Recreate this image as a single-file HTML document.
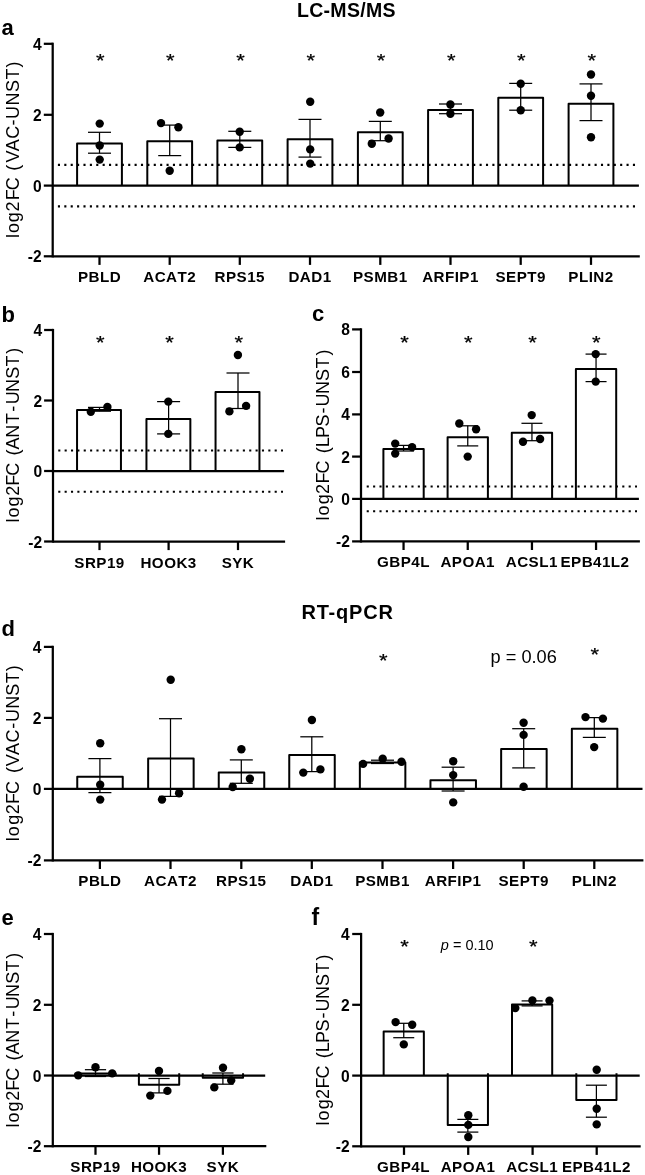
<!DOCTYPE html>
<html lang="en"><head><meta charset="utf-8"><title>Figure</title>
<style>html,body{margin:0;padding:0;background:#fff}svg{display:block}</style>
</head><body>
<svg width="645" height="1175" viewBox="0 0 645 1175" font-family='"Liberation Sans", sans-serif' fill="#000">
<rect width="645" height="1175" fill="#fff"/>
<text x="346.20" y="17.00" font-size="19.5" font-weight="bold" text-anchor="middle" textLength="98.5" lengthAdjust="spacing">LC-MS/MS</text>
<text x="347.20" y="618.90" font-size="20" font-weight="bold" text-anchor="middle" textLength="91.6" lengthAdjust="spacing">RT-qPCR</text>
<path d="M77.10 185.60V143.50H121.90V185.60" fill="#fff" stroke="#000" stroke-width="2.0" stroke-linejoin="round"/>
<path d="M147.30 185.60V141.20H192.10V185.60" fill="#fff" stroke="#000" stroke-width="2.0" stroke-linejoin="round"/>
<path d="M217.40 185.60V140.50H262.20V185.60" fill="#fff" stroke="#000" stroke-width="2.0" stroke-linejoin="round"/>
<path d="M287.60 185.60V139.30H332.40V185.60" fill="#fff" stroke="#000" stroke-width="2.0" stroke-linejoin="round"/>
<path d="M357.90 185.60V132.30H402.70V185.60" fill="#fff" stroke="#000" stroke-width="2.0" stroke-linejoin="round"/>
<path d="M428.10 185.60V110.00H472.90V185.60" fill="#fff" stroke="#000" stroke-width="2.0" stroke-linejoin="round"/>
<path d="M498.30 185.60V97.80H543.10V185.60" fill="#fff" stroke="#000" stroke-width="2.0" stroke-linejoin="round"/>
<path d="M568.60 185.60V103.80H613.40V185.60" fill="#fff" stroke="#000" stroke-width="2.0" stroke-linejoin="round"/>
<line x1="57.90" y1="164.90" x2="635.20" y2="164.90" stroke="#000" stroke-width="2.1" stroke-dasharray="2.1 4.289"/>
<line x1="57.90" y1="206.40" x2="635.20" y2="206.40" stroke="#000" stroke-width="2.1" stroke-dasharray="2.1 4.289"/>
<line x1="52.70" y1="185.60" x2="638.90" y2="185.60" stroke="#000" stroke-width="2.25" />
<line x1="99.50" y1="132.30" x2="99.50" y2="153.20" stroke="#000" stroke-width="1.25" />
<line x1="88.00" y1="132.30" x2="111.00" y2="132.30" stroke="#000" stroke-width="1.25" />
<line x1="88.00" y1="153.20" x2="111.00" y2="153.20" stroke="#000" stroke-width="1.25" />
<line x1="169.70" y1="125.10" x2="169.70" y2="155.60" stroke="#000" stroke-width="1.25" />
<line x1="158.20" y1="125.10" x2="181.20" y2="125.10" stroke="#000" stroke-width="1.25" />
<line x1="158.20" y1="155.60" x2="181.20" y2="155.60" stroke="#000" stroke-width="1.25" />
<line x1="239.80" y1="131.30" x2="239.80" y2="147.40" stroke="#000" stroke-width="1.25" />
<line x1="228.30" y1="131.30" x2="251.30" y2="131.30" stroke="#000" stroke-width="1.25" />
<line x1="228.30" y1="147.40" x2="251.30" y2="147.40" stroke="#000" stroke-width="1.25" />
<line x1="310.00" y1="119.40" x2="310.00" y2="157.10" stroke="#000" stroke-width="1.25" />
<line x1="298.50" y1="119.40" x2="321.50" y2="119.40" stroke="#000" stroke-width="1.25" />
<line x1="298.50" y1="157.10" x2="321.50" y2="157.10" stroke="#000" stroke-width="1.25" />
<line x1="380.30" y1="121.40" x2="380.30" y2="140.70" stroke="#000" stroke-width="1.25" />
<line x1="368.80" y1="121.40" x2="391.80" y2="121.40" stroke="#000" stroke-width="1.25" />
<line x1="368.80" y1="140.70" x2="391.80" y2="140.70" stroke="#000" stroke-width="1.25" />
<line x1="450.50" y1="104.00" x2="450.50" y2="113.70" stroke="#000" stroke-width="1.25" />
<line x1="439.00" y1="104.00" x2="462.00" y2="104.00" stroke="#000" stroke-width="1.25" />
<line x1="439.00" y1="113.70" x2="462.00" y2="113.70" stroke="#000" stroke-width="1.25" />
<line x1="520.70" y1="83.40" x2="520.70" y2="110.20" stroke="#000" stroke-width="1.25" />
<line x1="509.20" y1="83.40" x2="532.20" y2="83.40" stroke="#000" stroke-width="1.25" />
<line x1="509.20" y1="110.20" x2="532.20" y2="110.20" stroke="#000" stroke-width="1.25" />
<line x1="591.00" y1="83.90" x2="591.00" y2="120.60" stroke="#000" stroke-width="1.25" />
<line x1="579.50" y1="83.90" x2="602.50" y2="83.90" stroke="#000" stroke-width="1.25" />
<line x1="579.50" y1="120.60" x2="602.50" y2="120.60" stroke="#000" stroke-width="1.25" />
<circle cx="99.70" cy="123.60" r="4.2" fill="#000"/>
<circle cx="99.70" cy="145.50" r="4.2" fill="#000"/>
<circle cx="99.70" cy="159.60" r="4.2" fill="#000"/>
<circle cx="161.00" cy="123.10" r="4.2" fill="#000"/>
<circle cx="178.40" cy="127.30" r="4.2" fill="#000"/>
<circle cx="169.70" cy="170.80" r="4.2" fill="#000"/>
<circle cx="239.70" cy="131.80" r="4.2" fill="#000"/>
<circle cx="239.70" cy="147.40" r="4.2" fill="#000"/>
<circle cx="310.20" cy="101.80" r="4.2" fill="#000"/>
<circle cx="310.20" cy="149.40" r="4.2" fill="#000"/>
<circle cx="310.20" cy="163.60" r="4.2" fill="#000"/>
<circle cx="380.20" cy="112.50" r="4.2" fill="#000"/>
<circle cx="388.60" cy="138.50" r="4.2" fill="#000"/>
<circle cx="371.80" cy="143.70" r="4.2" fill="#000"/>
<circle cx="450.40" cy="104.50" r="4.2" fill="#000"/>
<circle cx="450.40" cy="113.70" r="4.2" fill="#000"/>
<circle cx="520.70" cy="83.70" r="4.2" fill="#000"/>
<circle cx="520.70" cy="110.20" r="4.2" fill="#000"/>
<circle cx="591.00" cy="74.50" r="4.2" fill="#000"/>
<circle cx="591.00" cy="95.80" r="4.2" fill="#000"/>
<circle cx="591.00" cy="137.30" r="4.2" fill="#000"/>
<line x1="52.70" y1="42.67" x2="52.70" y2="257.43" stroke="#000" stroke-width="2.25" />
<line x1="52.70" y1="256.30" x2="639.80" y2="256.30" stroke="#000" stroke-width="2.25" />
<line x1="43.80" y1="256.30" x2="52.70" y2="256.30" stroke="#000" stroke-width="2.25" />
<text x="41.60" y="262.30" font-size="15.6" font-weight="bold" text-anchor="end" >-2</text>
<line x1="43.80" y1="185.60" x2="52.70" y2="185.60" stroke="#000" stroke-width="2.25" />
<text x="41.60" y="191.60" font-size="15.6" font-weight="bold" text-anchor="end" >0</text>
<line x1="43.80" y1="114.80" x2="52.70" y2="114.80" stroke="#000" stroke-width="2.25" />
<text x="41.60" y="120.80" font-size="15.6" font-weight="bold" text-anchor="end" >2</text>
<line x1="43.80" y1="43.80" x2="52.70" y2="43.80" stroke="#000" stroke-width="2.25" />
<text x="41.60" y="49.80" font-size="15.6" font-weight="bold" text-anchor="end" >4</text>
<line x1="99.50" y1="256.30" x2="99.50" y2="264.90" stroke="#000" stroke-width="2.25" />
<text x="99.50" y="282.30" font-size="15.2" font-weight="bold" text-anchor="middle" letter-spacing="0.45" style="font-kerning:none">PBLD</text>
<line x1="169.70" y1="256.30" x2="169.70" y2="264.90" stroke="#000" stroke-width="2.25" />
<text x="169.70" y="282.30" font-size="15.2" font-weight="bold" text-anchor="middle" letter-spacing="0.45" style="font-kerning:none">ACAT2</text>
<line x1="239.80" y1="256.30" x2="239.80" y2="264.90" stroke="#000" stroke-width="2.25" />
<text x="239.80" y="282.30" font-size="15.2" font-weight="bold" text-anchor="middle" letter-spacing="0.45" style="font-kerning:none">RPS15</text>
<line x1="310.00" y1="256.30" x2="310.00" y2="264.90" stroke="#000" stroke-width="2.25" />
<text x="310.00" y="282.30" font-size="15.2" font-weight="bold" text-anchor="middle" letter-spacing="0.45" style="font-kerning:none">DAD1</text>
<line x1="380.30" y1="256.30" x2="380.30" y2="264.90" stroke="#000" stroke-width="2.25" />
<text x="380.30" y="282.30" font-size="15.2" font-weight="bold" text-anchor="middle" letter-spacing="0.45" style="font-kerning:none">PSMB1</text>
<line x1="450.50" y1="256.30" x2="450.50" y2="264.90" stroke="#000" stroke-width="2.25" />
<text x="450.50" y="282.30" font-size="15.2" font-weight="bold" text-anchor="middle" letter-spacing="0.45" style="font-kerning:none">ARFIP1</text>
<line x1="520.70" y1="256.30" x2="520.70" y2="264.90" stroke="#000" stroke-width="2.25" />
<text x="520.70" y="282.30" font-size="15.2" font-weight="bold" text-anchor="middle" letter-spacing="0.45" style="font-kerning:none">SEPT9</text>
<line x1="591.00" y1="256.30" x2="591.00" y2="264.90" stroke="#000" stroke-width="2.25" />
<text x="591.00" y="282.30" font-size="15.2" font-weight="bold" text-anchor="middle" letter-spacing="0.45" style="font-kerning:none">PLIN2</text>
<text transform="translate(100.20 66.55) scale(1 0.87)" font-size="22" text-anchor="middle" stroke="#000" stroke-width="0.25">*</text>
<text transform="translate(170.40 66.55) scale(1 0.87)" font-size="22" text-anchor="middle" stroke="#000" stroke-width="0.25">*</text>
<text transform="translate(240.50 66.55) scale(1 0.87)" font-size="22" text-anchor="middle" stroke="#000" stroke-width="0.25">*</text>
<text transform="translate(310.70 66.55) scale(1 0.87)" font-size="22" text-anchor="middle" stroke="#000" stroke-width="0.25">*</text>
<text transform="translate(381.00 66.55) scale(1 0.87)" font-size="22" text-anchor="middle" stroke="#000" stroke-width="0.25">*</text>
<text transform="translate(451.20 66.55) scale(1 0.87)" font-size="22" text-anchor="middle" stroke="#000" stroke-width="0.25">*</text>
<text transform="translate(521.40 66.55) scale(1 0.87)" font-size="22" text-anchor="middle" stroke="#000" stroke-width="0.25">*</text>
<text transform="translate(591.70 66.55) scale(1 0.87)" font-size="22" text-anchor="middle" stroke="#000" stroke-width="0.25">*</text>
<text x="1.50" y="35.00" font-size="22" font-weight="bold" text-anchor="start" >a</text>
<text transform="translate(19.30 238.30) rotate(-90)" font-size="18" text-anchor="start" x="0.20 5.20 16.00 26.80 38.00 48.00 61.00 67.60 75.80 86.96 99.44 112.92 119.40 132.88 146.35 158.84 170.72" y="0">log2FC (VAC-UNST)</text>
<path d="M77.05 471.00V409.90H120.95V471.00" fill="#fff" stroke="#000" stroke-width="2.0" stroke-linejoin="round"/>
<path d="M146.45 471.00V418.90H190.35V471.00" fill="#fff" stroke="#000" stroke-width="2.0" stroke-linejoin="round"/>
<path d="M215.55 471.00V391.90H259.45V471.00" fill="#fff" stroke="#000" stroke-width="2.0" stroke-linejoin="round"/>
<line x1="58.25" y1="450.50" x2="283.00" y2="450.50" stroke="#000" stroke-width="2.1" stroke-dasharray="2.1 4.265"/>
<line x1="58.25" y1="491.70" x2="283.00" y2="491.70" stroke="#000" stroke-width="2.1" stroke-dasharray="2.1 4.265"/>
<line x1="53.00" y1="471.00" x2="284.10" y2="471.00" stroke="#000" stroke-width="2.25" />
<line x1="99.50" y1="407.40" x2="99.50" y2="411.20" stroke="#000" stroke-width="1.25" />
<line x1="88.00" y1="407.40" x2="111.00" y2="407.40" stroke="#000" stroke-width="1.25" />
<line x1="88.00" y1="411.20" x2="111.00" y2="411.20" stroke="#000" stroke-width="1.25" />
<line x1="168.60" y1="401.60" x2="168.60" y2="433.90" stroke="#000" stroke-width="1.25" />
<line x1="157.10" y1="401.60" x2="180.10" y2="401.60" stroke="#000" stroke-width="1.25" />
<line x1="157.10" y1="433.90" x2="180.10" y2="433.90" stroke="#000" stroke-width="1.25" />
<line x1="238.00" y1="373.00" x2="238.00" y2="408.50" stroke="#000" stroke-width="1.25" />
<line x1="226.50" y1="373.00" x2="249.50" y2="373.00" stroke="#000" stroke-width="1.25" />
<line x1="226.50" y1="408.50" x2="249.50" y2="408.50" stroke="#000" stroke-width="1.25" />
<circle cx="90.80" cy="411.70" r="4.2" fill="#000"/>
<circle cx="107.40" cy="406.90" r="4.2" fill="#000"/>
<circle cx="168.30" cy="401.60" r="4.2" fill="#000"/>
<circle cx="168.30" cy="433.90" r="4.2" fill="#000"/>
<circle cx="237.90" cy="355.00" r="4.2" fill="#000"/>
<circle cx="246.10" cy="405.90" r="4.2" fill="#000"/>
<circle cx="229.40" cy="411.40" r="4.2" fill="#000"/>
<line x1="53.00" y1="328.88" x2="53.00" y2="542.62" stroke="#000" stroke-width="2.25" />
<line x1="53.00" y1="541.50" x2="285.10" y2="541.50" stroke="#000" stroke-width="2.25" />
<line x1="44.10" y1="541.50" x2="53.00" y2="541.50" stroke="#000" stroke-width="2.25" />
<text x="42.10" y="547.50" font-size="15.6" font-weight="bold" text-anchor="end" >-2</text>
<line x1="44.10" y1="471.00" x2="53.00" y2="471.00" stroke="#000" stroke-width="2.25" />
<text x="42.10" y="477.00" font-size="15.6" font-weight="bold" text-anchor="end" >0</text>
<line x1="44.10" y1="400.50" x2="53.00" y2="400.50" stroke="#000" stroke-width="2.25" />
<text x="42.10" y="406.50" font-size="15.6" font-weight="bold" text-anchor="end" >2</text>
<line x1="44.10" y1="330.00" x2="53.00" y2="330.00" stroke="#000" stroke-width="2.25" />
<text x="42.10" y="336.00" font-size="15.6" font-weight="bold" text-anchor="end" >4</text>
<line x1="99.50" y1="541.50" x2="99.50" y2="550.10" stroke="#000" stroke-width="2.25" />
<text x="99.50" y="567.50" font-size="15.2" font-weight="bold" text-anchor="middle" letter-spacing="0.45" style="font-kerning:none">SRP19</text>
<line x1="168.60" y1="541.50" x2="168.60" y2="550.10" stroke="#000" stroke-width="2.25" />
<text x="168.60" y="567.50" font-size="15.2" font-weight="bold" text-anchor="middle" letter-spacing="0.45" style="font-kerning:none">HOOK3</text>
<line x1="238.00" y1="541.50" x2="238.00" y2="550.10" stroke="#000" stroke-width="2.25" />
<text x="238.00" y="567.50" font-size="15.2" font-weight="bold" text-anchor="middle" letter-spacing="0.45" style="font-kerning:none">SYK</text>
<text transform="translate(100.20 349.05) scale(1 0.87)" font-size="22" text-anchor="middle" stroke="#000" stroke-width="0.25">*</text>
<text transform="translate(169.50 349.05) scale(1 0.87)" font-size="22" text-anchor="middle" stroke="#000" stroke-width="0.25">*</text>
<text transform="translate(238.70 349.05) scale(1 0.87)" font-size="22" text-anchor="middle" stroke="#000" stroke-width="0.25">*</text>
<text x="1.50" y="321.50" font-size="22" font-weight="bold" text-anchor="start" >b</text>
<text transform="translate(19.30 524.00) rotate(-90)" font-size="18" text-anchor="start" x="1.40 6.40 17.50 28.30 38.30 48.30 61.00 68.60 74.60 86.30 99.90 112.20 119.70 131.90 145.20 157.40 170.30" y="0">log2FC (ANT-UNST)</text>
<path d="M383.40 498.90V449.10H423.70V498.90" fill="#fff" stroke="#000" stroke-width="2.0" stroke-linejoin="round"/>
<path d="M447.60 498.90V437.20H487.90V498.90" fill="#fff" stroke="#000" stroke-width="2.0" stroke-linejoin="round"/>
<path d="M511.80 498.90V432.80H552.10V498.90" fill="#fff" stroke="#000" stroke-width="2.0" stroke-linejoin="round"/>
<path d="M575.90 498.90V369.00H616.20V498.90" fill="#fff" stroke="#000" stroke-width="2.0" stroke-linejoin="round"/>
<line x1="366.70" y1="486.50" x2="637.00" y2="486.50" stroke="#000" stroke-width="2.1" stroke-dasharray="2.1 4.289"/>
<line x1="366.70" y1="511.30" x2="637.00" y2="511.30" stroke="#000" stroke-width="2.1" stroke-dasharray="2.1 4.289"/>
<line x1="361.00" y1="498.90" x2="638.90" y2="498.90" stroke="#000" stroke-width="2.25" />
<line x1="403.55" y1="445.40" x2="403.55" y2="451.00" stroke="#000" stroke-width="1.25" />
<line x1="393.05" y1="445.40" x2="414.05" y2="445.40" stroke="#000" stroke-width="1.25" />
<line x1="393.05" y1="451.00" x2="414.05" y2="451.00" stroke="#000" stroke-width="1.25" />
<line x1="467.75" y1="425.80" x2="467.75" y2="445.90" stroke="#000" stroke-width="1.25" />
<line x1="457.25" y1="425.80" x2="478.25" y2="425.80" stroke="#000" stroke-width="1.25" />
<line x1="457.25" y1="445.90" x2="478.25" y2="445.90" stroke="#000" stroke-width="1.25" />
<line x1="531.95" y1="423.30" x2="531.95" y2="440.70" stroke="#000" stroke-width="1.25" />
<line x1="521.45" y1="423.30" x2="542.45" y2="423.30" stroke="#000" stroke-width="1.25" />
<line x1="521.45" y1="440.70" x2="542.45" y2="440.70" stroke="#000" stroke-width="1.25" />
<line x1="596.05" y1="354.10" x2="596.05" y2="381.60" stroke="#000" stroke-width="1.25" />
<line x1="585.55" y1="354.10" x2="606.55" y2="354.10" stroke="#000" stroke-width="1.25" />
<line x1="585.55" y1="381.60" x2="606.55" y2="381.60" stroke="#000" stroke-width="1.25" />
<circle cx="395.20" cy="443.60" r="4.2" fill="#000"/>
<circle cx="395.20" cy="453.60" r="4.2" fill="#000"/>
<circle cx="412.10" cy="447.10" r="4.2" fill="#000"/>
<circle cx="459.30" cy="423.50" r="4.2" fill="#000"/>
<circle cx="476.10" cy="429.30" r="4.2" fill="#000"/>
<circle cx="467.70" cy="456.60" r="4.2" fill="#000"/>
<circle cx="531.70" cy="415.10" r="4.2" fill="#000"/>
<circle cx="540.10" cy="439.00" r="4.2" fill="#000"/>
<circle cx="523.00" cy="441.70" r="4.2" fill="#000"/>
<circle cx="595.70" cy="354.10" r="4.2" fill="#000"/>
<circle cx="595.70" cy="381.60" r="4.2" fill="#000"/>
<line x1="361.00" y1="328.27" x2="361.00" y2="542.52" stroke="#000" stroke-width="2.25" />
<line x1="361.00" y1="541.40" x2="639.90" y2="541.40" stroke="#000" stroke-width="2.25" />
<line x1="352.10" y1="541.40" x2="361.00" y2="541.40" stroke="#000" stroke-width="2.25" />
<text x="349.90" y="547.40" font-size="15.6" font-weight="bold" text-anchor="end" >-2</text>
<line x1="352.10" y1="498.90" x2="361.00" y2="498.90" stroke="#000" stroke-width="2.25" />
<text x="349.90" y="504.90" font-size="15.6" font-weight="bold" text-anchor="end" >0</text>
<line x1="352.10" y1="456.60" x2="361.00" y2="456.60" stroke="#000" stroke-width="2.25" />
<text x="349.90" y="462.60" font-size="15.6" font-weight="bold" text-anchor="end" >2</text>
<line x1="352.10" y1="414.40" x2="361.00" y2="414.40" stroke="#000" stroke-width="2.25" />
<text x="349.90" y="420.40" font-size="15.6" font-weight="bold" text-anchor="end" >4</text>
<line x1="352.10" y1="372.00" x2="361.00" y2="372.00" stroke="#000" stroke-width="2.25" />
<text x="349.90" y="378.00" font-size="15.6" font-weight="bold" text-anchor="end" >6</text>
<line x1="352.10" y1="329.40" x2="361.00" y2="329.40" stroke="#000" stroke-width="2.25" />
<text x="349.90" y="335.40" font-size="15.6" font-weight="bold" text-anchor="end" >8</text>
<line x1="403.55" y1="541.40" x2="403.55" y2="550.00" stroke="#000" stroke-width="2.25" />
<text x="403.50" y="567.40" font-size="15.2" font-weight="bold" text-anchor="middle" letter-spacing="0.45" style="font-kerning:none">GBP4L</text>
<line x1="467.75" y1="541.40" x2="467.75" y2="550.00" stroke="#000" stroke-width="2.25" />
<text x="467.70" y="567.40" font-size="15.2" font-weight="bold" text-anchor="middle" letter-spacing="0.45" style="font-kerning:none">APOA1</text>
<line x1="531.95" y1="541.40" x2="531.95" y2="550.00" stroke="#000" stroke-width="2.25" />
<text x="531.80" y="567.40" font-size="15.2" font-weight="bold" text-anchor="middle" letter-spacing="0.45" style="font-kerning:none">ACSL1</text>
<line x1="596.05" y1="541.40" x2="596.05" y2="550.00" stroke="#000" stroke-width="2.25" />
<text x="595.00" y="567.40" font-size="15.2" font-weight="bold" text-anchor="middle" letter-spacing="0.45" style="font-kerning:none">EPB41L2</text>
<text transform="translate(404.60 349.05) scale(1 0.87)" font-size="22" text-anchor="middle" stroke="#000" stroke-width="0.25">*</text>
<text transform="translate(468.40 349.05) scale(1 0.87)" font-size="22" text-anchor="middle" stroke="#000" stroke-width="0.25">*</text>
<text transform="translate(532.50 349.05) scale(1 0.87)" font-size="22" text-anchor="middle" stroke="#000" stroke-width="0.25">*</text>
<text transform="translate(596.20 349.05) scale(1 0.87)" font-size="22" text-anchor="middle" stroke="#000" stroke-width="0.25">*</text>
<text x="312.00" y="321.00" font-size="22" font-weight="bold" text-anchor="start" >c</text>
<text transform="translate(328.50 524.00) rotate(-90)" font-size="18" text-anchor="start" x="3.60 8.45 19.65 30.05 40.40 50.50 63.00 70.65 76.70 86.10 97.60 110.50 117.50 130.00 143.00 155.40 168.60" y="0">log2FC (LPS-UNST)</text>
<path d="M77.25 788.90V776.70H122.75V788.90" fill="#fff" stroke="#000" stroke-width="2.0" stroke-linejoin="round"/>
<path d="M148.15 788.90V758.40H193.65V788.90" fill="#fff" stroke="#000" stroke-width="2.0" stroke-linejoin="round"/>
<path d="M218.75 788.90V772.60H264.25V788.90" fill="#fff" stroke="#000" stroke-width="2.0" stroke-linejoin="round"/>
<path d="M289.25 788.90V755.00H334.75V788.90" fill="#fff" stroke="#000" stroke-width="2.0" stroke-linejoin="round"/>
<path d="M359.85 788.90V762.40H405.35V788.90" fill="#fff" stroke="#000" stroke-width="2.0" stroke-linejoin="round"/>
<path d="M430.45 788.90V780.30H475.95V788.90" fill="#fff" stroke="#000" stroke-width="2.0" stroke-linejoin="round"/>
<path d="M501.15 788.90V749.10H546.65V788.90" fill="#fff" stroke="#000" stroke-width="2.0" stroke-linejoin="round"/>
<path d="M571.85 788.90V728.80H617.35V788.90" fill="#fff" stroke="#000" stroke-width="2.0" stroke-linejoin="round"/>
<line x1="52.80" y1="788.90" x2="642.50" y2="788.90" stroke="#000" stroke-width="2.25" />
<line x1="99.90" y1="758.60" x2="99.90" y2="792.60" stroke="#000" stroke-width="1.25" />
<line x1="88.40" y1="758.60" x2="111.40" y2="758.60" stroke="#000" stroke-width="1.25" />
<line x1="88.40" y1="792.60" x2="111.40" y2="792.60" stroke="#000" stroke-width="1.25" />
<line x1="170.50" y1="718.70" x2="170.50" y2="796.40" stroke="#000" stroke-width="1.25" />
<line x1="159.00" y1="718.70" x2="182.00" y2="718.70" stroke="#000" stroke-width="1.25" />
<line x1="159.00" y1="796.40" x2="182.00" y2="796.40" stroke="#000" stroke-width="1.25" />
<line x1="241.30" y1="759.90" x2="241.30" y2="783.30" stroke="#000" stroke-width="1.25" />
<line x1="229.80" y1="759.90" x2="252.80" y2="759.90" stroke="#000" stroke-width="1.25" />
<line x1="229.80" y1="783.30" x2="252.80" y2="783.30" stroke="#000" stroke-width="1.25" />
<line x1="311.80" y1="736.80" x2="311.80" y2="771.60" stroke="#000" stroke-width="1.25" />
<line x1="300.30" y1="736.80" x2="323.30" y2="736.80" stroke="#000" stroke-width="1.25" />
<line x1="300.30" y1="771.60" x2="323.30" y2="771.60" stroke="#000" stroke-width="1.25" />
<line x1="382.50" y1="760.20" x2="382.50" y2="763.50" stroke="#000" stroke-width="1.25" />
<line x1="371.00" y1="760.20" x2="394.00" y2="760.20" stroke="#000" stroke-width="1.25" />
<line x1="371.00" y1="763.50" x2="394.00" y2="763.50" stroke="#000" stroke-width="1.25" />
<line x1="453.10" y1="767.20" x2="453.10" y2="791.00" stroke="#000" stroke-width="1.25" />
<line x1="441.60" y1="767.20" x2="464.60" y2="767.20" stroke="#000" stroke-width="1.25" />
<line x1="441.60" y1="791.00" x2="464.60" y2="791.00" stroke="#000" stroke-width="1.25" />
<line x1="523.70" y1="728.70" x2="523.70" y2="767.90" stroke="#000" stroke-width="1.25" />
<line x1="512.20" y1="728.70" x2="535.20" y2="728.70" stroke="#000" stroke-width="1.25" />
<line x1="512.20" y1="767.90" x2="535.20" y2="767.90" stroke="#000" stroke-width="1.25" />
<line x1="594.30" y1="717.60" x2="594.30" y2="737.40" stroke="#000" stroke-width="1.25" />
<line x1="582.80" y1="717.60" x2="605.80" y2="717.60" stroke="#000" stroke-width="1.25" />
<line x1="582.80" y1="737.40" x2="605.80" y2="737.40" stroke="#000" stroke-width="1.25" />
<circle cx="100.20" cy="743.20" r="4.2" fill="#000"/>
<circle cx="100.20" cy="784.70" r="4.2" fill="#000"/>
<circle cx="100.20" cy="799.60" r="4.2" fill="#000"/>
<circle cx="170.70" cy="679.80" r="4.2" fill="#000"/>
<circle cx="179.10" cy="793.20" r="4.2" fill="#000"/>
<circle cx="162.00" cy="799.60" r="4.2" fill="#000"/>
<circle cx="241.40" cy="749.30" r="4.2" fill="#000"/>
<circle cx="249.90" cy="778.80" r="4.2" fill="#000"/>
<circle cx="232.70" cy="787.00" r="4.2" fill="#000"/>
<circle cx="311.90" cy="720.00" r="4.2" fill="#000"/>
<circle cx="320.40" cy="769.40" r="4.2" fill="#000"/>
<circle cx="303.30" cy="772.60" r="4.2" fill="#000"/>
<circle cx="363.10" cy="763.90" r="4.2" fill="#000"/>
<circle cx="382.70" cy="758.70" r="4.2" fill="#000"/>
<circle cx="401.50" cy="761.70" r="4.2" fill="#000"/>
<circle cx="453.20" cy="761.20" r="4.2" fill="#000"/>
<circle cx="453.20" cy="775.10" r="4.2" fill="#000"/>
<circle cx="453.20" cy="802.40" r="4.2" fill="#000"/>
<circle cx="523.60" cy="722.80" r="4.2" fill="#000"/>
<circle cx="523.60" cy="734.90" r="4.2" fill="#000"/>
<circle cx="523.60" cy="786.80" r="4.2" fill="#000"/>
<circle cx="585.50" cy="717.10" r="4.2" fill="#000"/>
<circle cx="602.90" cy="718.60" r="4.2" fill="#000"/>
<circle cx="594.20" cy="747.10" r="4.2" fill="#000"/>
<line x1="52.80" y1="645.77" x2="52.80" y2="861.52" stroke="#000" stroke-width="2.25" />
<line x1="52.80" y1="860.40" x2="643.40" y2="860.40" stroke="#000" stroke-width="2.25" />
<line x1="43.90" y1="860.40" x2="52.80" y2="860.40" stroke="#000" stroke-width="2.25" />
<text x="41.40" y="866.40" font-size="15.6" font-weight="bold" text-anchor="end" >-2</text>
<line x1="43.90" y1="788.90" x2="52.80" y2="788.90" stroke="#000" stroke-width="2.25" />
<text x="41.40" y="794.90" font-size="15.6" font-weight="bold" text-anchor="end" >0</text>
<line x1="43.90" y1="717.90" x2="52.80" y2="717.90" stroke="#000" stroke-width="2.25" />
<text x="41.40" y="723.90" font-size="15.6" font-weight="bold" text-anchor="end" >2</text>
<line x1="43.90" y1="646.90" x2="52.80" y2="646.90" stroke="#000" stroke-width="2.25" />
<text x="41.40" y="652.90" font-size="15.6" font-weight="bold" text-anchor="end" >4</text>
<line x1="99.90" y1="860.40" x2="99.90" y2="869.00" stroke="#000" stroke-width="2.25" />
<text x="99.90" y="886.40" font-size="15.2" font-weight="bold" text-anchor="middle" letter-spacing="0.45" style="font-kerning:none">PBLD</text>
<line x1="170.50" y1="860.40" x2="170.50" y2="869.00" stroke="#000" stroke-width="2.25" />
<text x="170.50" y="886.40" font-size="15.2" font-weight="bold" text-anchor="middle" letter-spacing="0.45" style="font-kerning:none">ACAT2</text>
<line x1="241.30" y1="860.40" x2="241.30" y2="869.00" stroke="#000" stroke-width="2.25" />
<text x="241.30" y="886.40" font-size="15.2" font-weight="bold" text-anchor="middle" letter-spacing="0.45" style="font-kerning:none">RPS15</text>
<line x1="311.80" y1="860.40" x2="311.80" y2="869.00" stroke="#000" stroke-width="2.25" />
<text x="311.80" y="886.40" font-size="15.2" font-weight="bold" text-anchor="middle" letter-spacing="0.45" style="font-kerning:none">DAD1</text>
<line x1="382.50" y1="860.40" x2="382.50" y2="869.00" stroke="#000" stroke-width="2.25" />
<text x="382.50" y="886.40" font-size="15.2" font-weight="bold" text-anchor="middle" letter-spacing="0.45" style="font-kerning:none">PSMB1</text>
<line x1="453.10" y1="860.40" x2="453.10" y2="869.00" stroke="#000" stroke-width="2.25" />
<text x="453.10" y="886.40" font-size="15.2" font-weight="bold" text-anchor="middle" letter-spacing="0.45" style="font-kerning:none">ARFIP1</text>
<line x1="523.70" y1="860.40" x2="523.70" y2="869.00" stroke="#000" stroke-width="2.25" />
<text x="523.70" y="886.40" font-size="15.2" font-weight="bold" text-anchor="middle" letter-spacing="0.45" style="font-kerning:none">SEPT9</text>
<line x1="594.30" y1="860.40" x2="594.30" y2="869.00" stroke="#000" stroke-width="2.25" />
<text x="594.30" y="886.40" font-size="15.2" font-weight="bold" text-anchor="middle" letter-spacing="0.45" style="font-kerning:none">PLIN2</text>
<text transform="translate(383.20 666.55) scale(1 0.87)" font-size="22" text-anchor="middle" stroke="#000" stroke-width="0.25">*</text>
<text transform="translate(594.90 661.35) scale(1 0.87)" font-size="22" text-anchor="middle" stroke="#000" stroke-width="0.25">*</text>
<text x="523.70" y="662.80" font-size="18.2" font-weight="normal" text-anchor="middle" >p = 0.06</text>
<text x="1.50" y="636.00" font-size="22" font-weight="bold" text-anchor="start" >d</text>
<text transform="translate(19.30 842.00) rotate(-90)" font-size="18" text-anchor="start" x="0.70 5.80 17.20 27.80 38.00 48.00 61.00 68.90 75.80 86.96 99.44 113.20 120.00 133.20 146.35 158.84 170.72" y="0">log2FC (VAC-UNST)</text>
<path d="M75.35 1075.50V1073.40H115.65V1075.50" fill="#fff" stroke="#000" stroke-width="2.0" stroke-linejoin="round"/>
<path d="M138.90 1073.20V1084.70H179.20V1073.20" fill="#fff" stroke="#000" stroke-width="2.0" stroke-linejoin="round"/>
<path d="M202.75 1073.20V1077.70H243.05V1073.20" fill="#fff" stroke="#000" stroke-width="2.0" stroke-linejoin="round"/>
<line x1="52.80" y1="1075.50" x2="265.20" y2="1075.50" stroke="#000" stroke-width="2.25" />
<line x1="95.50" y1="1069.70" x2="95.50" y2="1076.50" stroke="#000" stroke-width="1.25" />
<line x1="84.90" y1="1069.70" x2="106.10" y2="1069.70" stroke="#000" stroke-width="1.25" />
<line x1="84.90" y1="1076.50" x2="106.10" y2="1076.50" stroke="#000" stroke-width="1.25" />
<line x1="159.05" y1="1078.50" x2="159.05" y2="1092.90" stroke="#000" stroke-width="1.25" />
<line x1="148.45" y1="1078.50" x2="169.65" y2="1078.50" stroke="#000" stroke-width="1.25" />
<line x1="148.45" y1="1092.90" x2="169.65" y2="1092.90" stroke="#000" stroke-width="1.25" />
<line x1="222.90" y1="1073.00" x2="222.90" y2="1084.20" stroke="#000" stroke-width="1.25" />
<line x1="212.30" y1="1073.00" x2="233.50" y2="1073.00" stroke="#000" stroke-width="1.25" />
<line x1="212.30" y1="1084.20" x2="233.50" y2="1084.20" stroke="#000" stroke-width="1.25" />
<circle cx="78.20" cy="1075.40" r="4.2" fill="#000"/>
<circle cx="95.50" cy="1067.20" r="4.2" fill="#000"/>
<circle cx="112.20" cy="1073.40" r="4.2" fill="#000"/>
<circle cx="159.00" cy="1071.00" r="4.2" fill="#000"/>
<circle cx="167.40" cy="1090.90" r="4.2" fill="#000"/>
<circle cx="150.30" cy="1095.60" r="4.2" fill="#000"/>
<circle cx="223.00" cy="1067.80" r="4.2" fill="#000"/>
<circle cx="231.20" cy="1080.40" r="4.2" fill="#000"/>
<circle cx="214.30" cy="1087.40" r="4.2" fill="#000"/>
<line x1="52.80" y1="932.88" x2="52.80" y2="1147.33" stroke="#000" stroke-width="2.25" />
<line x1="52.80" y1="1146.20" x2="266.30" y2="1146.20" stroke="#000" stroke-width="2.25" />
<line x1="43.90" y1="1146.20" x2="52.80" y2="1146.20" stroke="#000" stroke-width="2.25" />
<text x="41.40" y="1152.20" font-size="15.6" font-weight="bold" text-anchor="end" >-2</text>
<line x1="43.90" y1="1075.50" x2="52.80" y2="1075.50" stroke="#000" stroke-width="2.25" />
<text x="41.40" y="1081.50" font-size="15.6" font-weight="bold" text-anchor="end" >0</text>
<line x1="43.90" y1="1004.80" x2="52.80" y2="1004.80" stroke="#000" stroke-width="2.25" />
<text x="41.40" y="1010.80" font-size="15.6" font-weight="bold" text-anchor="end" >2</text>
<line x1="43.90" y1="934.00" x2="52.80" y2="934.00" stroke="#000" stroke-width="2.25" />
<text x="41.40" y="940.00" font-size="15.6" font-weight="bold" text-anchor="end" >4</text>
<line x1="95.50" y1="1146.20" x2="95.50" y2="1154.80" stroke="#000" stroke-width="2.25" />
<text x="95.50" y="1172.20" font-size="15.2" font-weight="bold" text-anchor="middle" letter-spacing="0.45" style="font-kerning:none">SRP19</text>
<line x1="159.05" y1="1146.20" x2="159.05" y2="1154.80" stroke="#000" stroke-width="2.25" />
<text x="159.05" y="1172.20" font-size="15.2" font-weight="bold" text-anchor="middle" letter-spacing="0.45" style="font-kerning:none">HOOK3</text>
<line x1="222.90" y1="1146.20" x2="222.90" y2="1154.80" stroke="#000" stroke-width="2.25" />
<text x="222.90" y="1172.20" font-size="15.2" font-weight="bold" text-anchor="middle" letter-spacing="0.45" style="font-kerning:none">SYK</text>
<text x="1.50" y="925.20" font-size="22" font-weight="bold" text-anchor="start" >e</text>
<text transform="translate(19.30 1129.00) rotate(-90)" font-size="18" text-anchor="start" x="1.40 6.40 17.50 28.30 38.30 48.30 61.00 68.60 74.60 86.30 99.90 112.20 119.70 131.90 145.20 157.40 170.30" y="0">log2FC (ANT-UNST)</text>
<path d="M383.65 1075.60V1031.50H423.85V1075.60" fill="#fff" stroke="#000" stroke-width="2.0" stroke-linejoin="round"/>
<path d="M447.75 1073.30V1124.90H487.95V1073.30" fill="#fff" stroke="#000" stroke-width="2.0" stroke-linejoin="round"/>
<path d="M512.00 1075.60V1004.40H552.20V1075.60" fill="#fff" stroke="#000" stroke-width="2.0" stroke-linejoin="round"/>
<path d="M576.30 1073.30V1100.00H616.50V1073.30" fill="#fff" stroke="#000" stroke-width="2.0" stroke-linejoin="round"/>
<line x1="361.10" y1="1075.60" x2="639.70" y2="1075.60" stroke="#000" stroke-width="2.25" />
<line x1="403.75" y1="1023.30" x2="403.75" y2="1037.70" stroke="#000" stroke-width="1.25" />
<line x1="393.25" y1="1023.30" x2="414.25" y2="1023.30" stroke="#000" stroke-width="1.25" />
<line x1="393.25" y1="1037.70" x2="414.25" y2="1037.70" stroke="#000" stroke-width="1.25" />
<line x1="467.85" y1="1119.40" x2="467.85" y2="1132.10" stroke="#000" stroke-width="1.25" />
<line x1="457.35" y1="1119.40" x2="478.35" y2="1119.40" stroke="#000" stroke-width="1.25" />
<line x1="457.35" y1="1132.10" x2="478.35" y2="1132.10" stroke="#000" stroke-width="1.25" />
<line x1="532.10" y1="1000.90" x2="532.10" y2="1005.90" stroke="#000" stroke-width="1.25" />
<line x1="521.60" y1="1000.90" x2="542.60" y2="1000.90" stroke="#000" stroke-width="1.25" />
<line x1="521.60" y1="1005.90" x2="542.60" y2="1005.90" stroke="#000" stroke-width="1.25" />
<line x1="596.40" y1="1085.20" x2="596.40" y2="1117.20" stroke="#000" stroke-width="1.25" />
<line x1="585.90" y1="1085.20" x2="606.90" y2="1085.20" stroke="#000" stroke-width="1.25" />
<line x1="585.90" y1="1117.20" x2="606.90" y2="1117.20" stroke="#000" stroke-width="1.25" />
<circle cx="395.60" cy="1022.10" r="4.2" fill="#000"/>
<circle cx="412.20" cy="1024.80" r="4.2" fill="#000"/>
<circle cx="403.80" cy="1044.40" r="4.2" fill="#000"/>
<circle cx="468.30" cy="1115.20" r="4.2" fill="#000"/>
<circle cx="468.30" cy="1124.90" r="4.2" fill="#000"/>
<circle cx="468.30" cy="1137.00" r="4.2" fill="#000"/>
<circle cx="515.30" cy="1008.10" r="4.2" fill="#000"/>
<circle cx="532.40" cy="1000.40" r="4.2" fill="#000"/>
<circle cx="549.50" cy="1000.60" r="4.2" fill="#000"/>
<circle cx="596.70" cy="1069.80" r="4.2" fill="#000"/>
<circle cx="596.70" cy="1108.70" r="4.2" fill="#000"/>
<circle cx="596.70" cy="1124.40" r="4.2" fill="#000"/>
<line x1="361.10" y1="932.88" x2="361.10" y2="1147.42" stroke="#000" stroke-width="2.25" />
<line x1="361.10" y1="1146.30" x2="640.70" y2="1146.30" stroke="#000" stroke-width="2.25" />
<line x1="352.20" y1="1146.30" x2="361.10" y2="1146.30" stroke="#000" stroke-width="2.25" />
<text x="349.60" y="1152.30" font-size="15.6" font-weight="bold" text-anchor="end" >-2</text>
<line x1="352.20" y1="1075.60" x2="361.10" y2="1075.60" stroke="#000" stroke-width="2.25" />
<text x="349.60" y="1081.60" font-size="15.6" font-weight="bold" text-anchor="end" >0</text>
<line x1="352.20" y1="1004.80" x2="361.10" y2="1004.80" stroke="#000" stroke-width="2.25" />
<text x="349.60" y="1010.80" font-size="15.6" font-weight="bold" text-anchor="end" >2</text>
<line x1="352.20" y1="934.00" x2="361.10" y2="934.00" stroke="#000" stroke-width="2.25" />
<text x="349.60" y="940.00" font-size="15.6" font-weight="bold" text-anchor="end" >4</text>
<line x1="404.00" y1="1146.30" x2="404.00" y2="1154.90" stroke="#000" stroke-width="2.25" />
<text x="403.50" y="1172.30" font-size="15.2" font-weight="bold" text-anchor="middle" letter-spacing="0.45" style="font-kerning:none">GBP4L</text>
<line x1="468.20" y1="1146.30" x2="468.20" y2="1154.90" stroke="#000" stroke-width="2.25" />
<text x="468.00" y="1172.30" font-size="15.2" font-weight="bold" text-anchor="middle" letter-spacing="0.45" style="font-kerning:none">APOA1</text>
<line x1="532.60" y1="1146.30" x2="532.60" y2="1154.90" stroke="#000" stroke-width="2.25" />
<text x="532.20" y="1172.30" font-size="15.2" font-weight="bold" text-anchor="middle" letter-spacing="0.45" style="font-kerning:none">ACSL1</text>
<line x1="596.70" y1="1146.30" x2="596.70" y2="1154.90" stroke="#000" stroke-width="2.25" />
<text x="596.40" y="1172.30" font-size="15.2" font-weight="bold" text-anchor="middle" letter-spacing="0.45" style="font-kerning:none">EPB41L2</text>
<text transform="translate(404.50 953.05) scale(1 0.87)" font-size="22" text-anchor="middle" stroke="#000" stroke-width="0.25">*</text>
<text transform="translate(533.20 953.05) scale(1 0.87)" font-size="22" text-anchor="middle" stroke="#000" stroke-width="0.25">*</text>
<text x="467.20" y="949.80" font-size="14.5" font-weight="normal" text-anchor="middle" ><tspan font-style="italic">p</tspan> = 0.10</text>
<text x="311.50" y="925.20" font-size="23" font-weight="bold" text-anchor="start" >f</text>
<text transform="translate(328.50 1129.00) rotate(-90)" font-size="18" text-anchor="start" x="3.60 8.45 19.65 30.05 40.40 50.50 63.00 70.65 76.70 86.10 97.60 110.50 117.50 130.00 143.00 155.40 168.60" y="0">log2FC (LPS-UNST)</text>
</svg>
</body></html>
